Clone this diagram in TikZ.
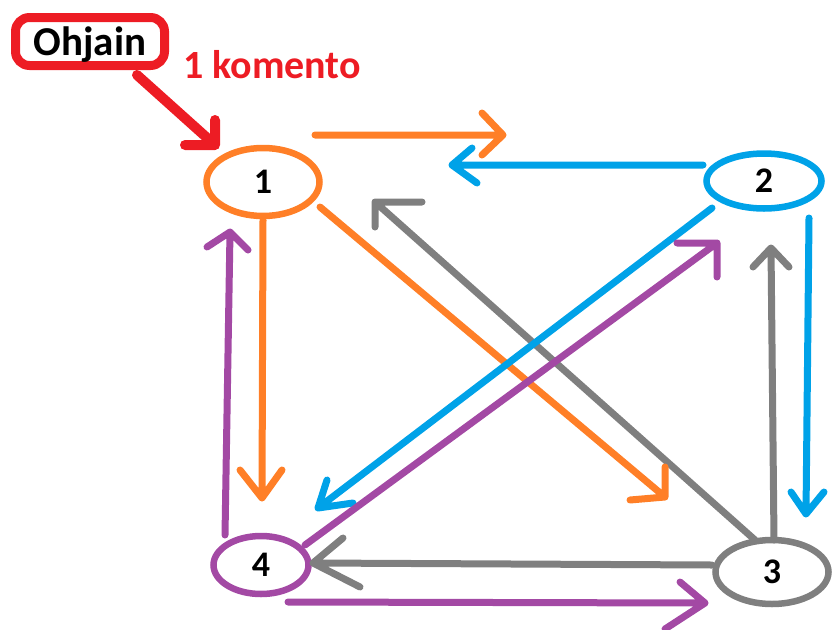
\documentclass[tikz,border=0pt]{standalone}
\usepackage{fontspec}
\setmainfont{Carlito}
\usetikzlibrary{shapes.geometric}
\definecolor{porange}{HTML}{FF7F27}
\definecolor{pblue}{HTML}{00A2E8}
\definecolor{ppurple}{HTML}{A349A4}
\definecolor{pgray}{HTML}{7F7F7F}
\definecolor{pred}{HTML}{ED1C24}
\begin{document}
\begin{tikzpicture}[x=1pt,y=-1pt,
  state/.style={ellipse, draw, line width=6.5pt, inner sep=0pt,
    font=\fontsize{36}{36}\selectfont\bfseries},
  link/.style={line width=7pt, line cap=round, line join=round},
]
\useasboundingbox (0,0) rectangle (832,629);

% controller box and command label
\node[draw=pred, line width=9pt, rounded corners=14pt, minimum width=149pt,
      minimum height=48pt, inner sep=0pt, text depth=0pt,
      font=\fontsize{41}{41}\selectfont\bfseries] (ctl) at (90,41.5) {Ohjain};
\node[text=pred, anchor=base west, inner sep=0pt,
      font=\fontsize{40}{40}\selectfont\bfseries] (cmd) at (183,78) {1 komento};

% the four states
\node[state, draw=porange, minimum width=113pt, minimum height=68pt] (n1) at (263,182) {1};
\node[state, draw=pblue,   minimum width=115pt, minimum height=55pt] (n2) at (764,181) {2};
\node[state, draw=pgray,   minimum width=113pt, minimum height=64pt] (n3) at (772,572) {3};
\node[state, draw=ppurple, minimum width=95pt,  minimum height=58pt] (n4) at (261,565) {4};

% connector end points
\coordinate (rs) at (137,75);   \coordinate (rt) at (215,145);
\coordinate (a12s) at (315,135); \coordinate (a12t) at (503,135);
\coordinate (a21s) at (703,165); \coordinate (a21t) at (452,165);
\coordinate (a31s) at (755,540); \coordinate (a31t) at (375,202);
\coordinate (a13s) at (320,207); \coordinate (a13t) at (665,497);
\coordinate (a24s) at (712,208); \coordinate (a24t) at (318,508);
\coordinate (a42s) at (305,545); \coordinate (a42t) at (717,243);
\coordinate (a14s) at (263,220); \coordinate (a14t) at (262,498);
\coordinate (a41s) at (225,535); \coordinate (a41t) at (230,232);
\coordinate (a32s) at (774,540); \coordinate (a32t) at (771,248);
\coordinate (a23s) at (809,218); \coordinate (a23t) at (806,514);
\coordinate (a34s) at (712,565); \coordinate (a34t) at (313,563);
\coordinate (a43s) at (288,602); \coordinate (a43t) at (705,603);

% command arrow
\draw[link, pred, line width=10pt] (rs) -- (rt) ++(0,-25) -- (rt) -- ++(-30,0);

% transitions, each with a hand-drawn open head
\draw[link, porange] (a12s) -- (a12t) ++(-21,-22) -- (a12t) -- ++(-21,20);
\draw[link, pblue]   (a21s) -- (a21t) ++(20,-17) -- (a21t) -- ++(25,18);
\draw[link, pgray]   (a31s) -- (a31t) ++(47,0) -- (a31t) -- ++(0,25);
\draw[link, porange] (a13s) -- (a13t) ++(0,-30) -- (a13t) -- ++(-35,3);
\draw[link, pblue]   (a24s) -- (a24t) ++(9,-28) -- (a24t) -- ++(35,-5);
\draw[link, ppurple] (a42s) -- (a42t) ++(-40,0) -- (a42t) -- ++(0,34);
\draw[link, porange] (a14s) -- (a14t) ++(-22,-28) -- (a14t) -- ++(20,-28);
\draw[link, ppurple] (a41s) -- (a41t) ++(-23,15) -- (a41t) -- ++(18,18);
\draw[link, pgray]   (a32s) -- (a32t) ++(-18,19) -- (a32t) -- ++(18,19);
\draw[link, pblue]   (a23s) -- (a23t) ++(-15,-22) -- (a23t) -- ++(18,-22);
\draw[link, pgray]   (a34s) -- (a34t) ++(30,-25) -- (a34t) -- ++(47,24);
\draw[link, ppurple] (a43s) -- (a43t) ++(-25,-21) -- (a43t) -- ++(-40,26);
\end{tikzpicture}
\end{document}
